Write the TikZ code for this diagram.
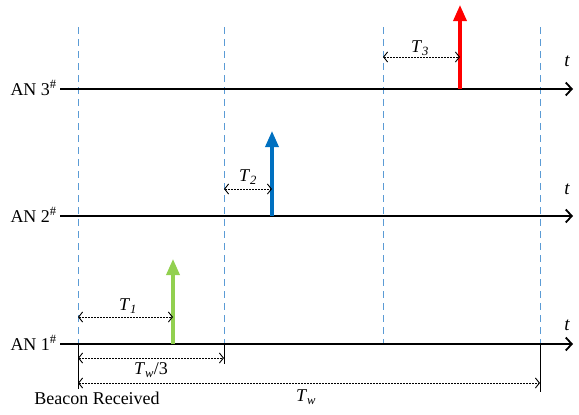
\documentclass[tikz,border=0pt]{standalone}
\usepackage{fontspec}
\setmainfont{Liberation Serif}
\usetikzlibrary{arrows.meta}
\definecolor{slotBlue}{RGB}{91,155,213}
\definecolor{pulseRed}{RGB}{255,0,0}
\definecolor{pulseBlue}{RGB}{0,112,192}
\definecolor{pulseGreen}{RGB}{146,208,80}

\tikzset{
  timeline/.style={line width=1.8pt,-{Straight Barb[length=6pt,width=13pt,line width=1.8pt]}},
  slotline/.style={slotBlue,line width=0.9pt,dash pattern=on 7pt off 5pt},
  tickline/.style={line width=0.9pt},
  pulse/.style={line width=3.4pt,-{Triangle[length=16pt,width=13pt]}},
  span/.style={line width=0.8pt,dash pattern=on 1.8pt off 1.2pt,{Straight Barb[length=4pt,width=10pt,line width=0.9pt]}-{Straight Barb[length=4pt,width=10pt,line width=0.9pt]}},
  lbl/.style={font=\fontsize{18}{20}\selectfont,inner sep=1pt},
  tlbl/.style={font=\itshape\fontsize{19}{21}\selectfont,inner sep=0pt}
}

\begin{document}
\begin{tikzpicture}[x=1pt,y=-1pt]
\path[use as bounding box] (0,0) rectangle (579,415);

% time axes
\coordinate (an3s) at (60,89);  \coordinate (an3e) at (573,89);
\coordinate (an2s) at (60,216); \coordinate (an2e) at (573,216);
\coordinate (an1s) at (60,344); \coordinate (an1e) at (573,344);

% slot boundaries
\coordinate (s0top) at (78,27);  \coordinate (s0mid) at (78,344);  \coordinate (s0bot) at (78,389);
\coordinate (s1top) at (224,27); \coordinate (s1mid) at (224,344); \coordinate (s1bot) at (224,364);
\coordinate (s2top) at (383,27); \coordinate (s2mid) at (383,344);
\coordinate (s3top) at (540,27); \coordinate (s3mid) at (540,344); \coordinate (s3bot) at (540,392);

\draw[slotline] (s0top) -- (s0mid);
\draw[slotline] (s1top) -- (s1mid);
\draw[slotline] (s2top) -- (s2mid);
\draw[slotline] (s3top) -- (s3mid);
\draw[tickline] (s0mid) -- (s0bot);
\draw[tickline] (s1mid) -- (s1bot);
\draw[tickline] (s3mid) -- (s3bot);

\draw[timeline] (an3s) -- (an3e);
\draw[timeline] (an2s) -- (an2e);
\draw[timeline] (an1s) -- (an1e);

\node[lbl,anchor=east] (an3) at (58,88) {AN 3\textsuperscript{\#}};
\node[lbl,anchor=east] (an2) at (58,215) {AN 2\textsuperscript{\#}};
\node[lbl,anchor=east] (an1) at (58,343) {AN 1\textsuperscript{\#}};
\node[tlbl] (t3) at (567,61) {t};
\node[tlbl] (t2) at (567,189) {t};
\node[tlbl] (t1) at (567,325) {t};

% transmissions
\coordinate (p3b) at (460,89);  \coordinate (p3t) at (460,5);
\coordinate (p2b) at (272,216); \coordinate (p2t) at (272,131);
\coordinate (p1b) at (173,344); \coordinate (p1t) at (173,259);
\draw[pulse,pulseRed] (p3b) -- (p3t);
\draw[pulse,pulseBlue] (p2b) -- (p2t);
\draw[pulse,pulseGreen] (p1b) -- (p1t);

% delays
\coordinate (d3a) at (383,57); \coordinate (d3b) at (460,57);
\coordinate (d2a) at (224,189); \coordinate (d2b) at (272,189);
\coordinate (d1a) at (78,317); \coordinate (d1b) at (173,317);
\coordinate (wa) at (78,358); \coordinate (wb) at (224,358);
\coordinate (Wa) at (78,383); \coordinate (Wb) at (540,383);
\draw[span] (d3a) -- (d3b);
\draw[span] (d2a) -- (d2b);
\draw[span] (d1a) -- (d1b);
\draw[span] (wa) -- (wb);
\draw[span] (Wa) -- (Wb);

\node[lbl] (T3) at (420,48) {\textit{T}\textsubscript{\textit{3}}};
\node[lbl] (T2) at (248,177) {\textit{T}\textsubscript{\textit{2}}};
\node[lbl] (T1) at (128,306) {\textit{T}\textsubscript{\textit{1}}};
\node[lbl] (Tw3) at (151,370) {\textit{T}\textsubscript{\textit{w}}/3};
\node[lbl] (Tw) at (306,397) {\textit{T}\textsubscript{\textit{w}}};
\node[lbl] (beacon) at (97,398) {Beacon Received};
\end{tikzpicture}
\end{document}
